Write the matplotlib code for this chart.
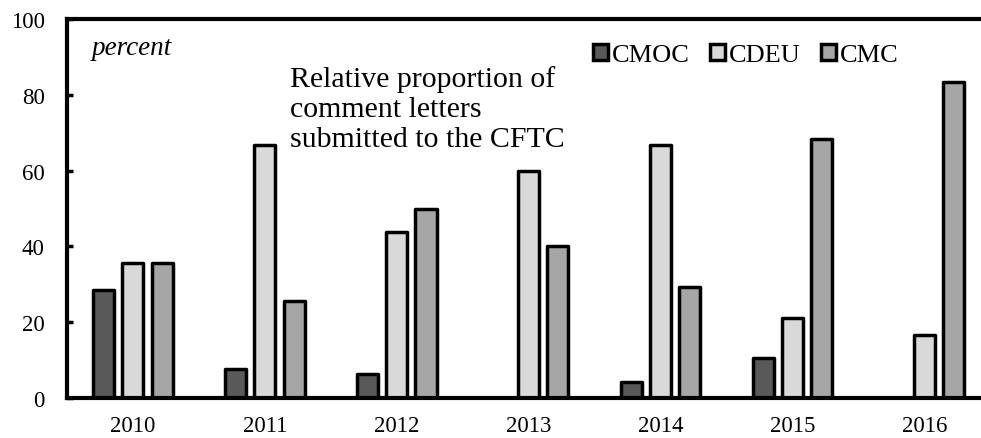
import numpy as np
import matplotlib
matplotlib.use("Agg")
import matplotlib.pyplot as plt

# ---------------------------------------- DATA ----------------------------------------
years = ["2010", "2011", "2012", "2013", "2014", "2015", "2016"]
cmoc = [28.6, 7.7, 6.3, 0.0, 4.2, 10.5, 0.0]
cdeu = [35.7, 66.7, 43.8, 60.0, 66.7, 21.1, 16.7]
cmc = [35.7, 25.6, 50.0, 40.0, 29.2, 68.4, 83.3]

series_names = ["CMOC", "CDEU", "CMC"]
colors = ["#595959", "#d9d9d9", "#a6a6a6"]

plt.rcParams["font.family"] = ["Liberation Serif", "DejaVu Serif"]

# ---------------------------------------- PLOT ----------------------------------------
fig = plt.figure(figsize=(9.81, 4.39), dpi=100)
ax = fig.add_axes([67 / 981, 40 / 439, 914 / 981, 379 / 439])

x = np.arange(len(years))
step = 0.222
width = 0.16
for i, (vals, name, col) in enumerate(zip([cmoc, cdeu, cmc], series_names, colors)):
    ax.bar(x + (i - 1) * step, vals, width, color=col, edgecolor="black",
           linewidth=2.5, label=name, zorder=2, joinstyle="round")

ax.set_xlim(-0.5, 6.43)
ax.set_ylim(0, 100)
ax.set_yticks(range(0, 101, 20))
ax.set_xticks(x)
ax.set_xticklabels(years)

for side in ["left", "bottom", "top"]:
    ax.spines[side].set_linewidth(3)
    ax.spines[side].set_zorder(3)
ax.spines["right"].set_visible(False)

ax.tick_params(axis="y", direction="in", length=4, width=2.5, pad=16, labelsize=16.5)
ax.tick_params(axis="x", length=0, pad=12, labelsize=16.5)

ax.text(0.027, 0.925, "percent", transform=ax.transAxes, style="italic",
        fontsize=19.5, va="center", ha="left")
ax.text(0.244, 0.765, "Relative proportion of\ncomment letters\nsubmitted to the CFTC",
        transform=ax.transAxes, fontsize=21.5, va="center", ha="left", linespacing=1.2)

leg = ax.legend(loc="center left", bbox_to_anchor=(0.5755, 0.905), ncol=3,
                frameon=False, fontsize=19, handlelength=0.58, handleheight=0.58,
                handletextpad=0.15, columnspacing=0.75, borderpad=0, borderaxespad=0)

fig.savefig("out.png", dpi=100)
